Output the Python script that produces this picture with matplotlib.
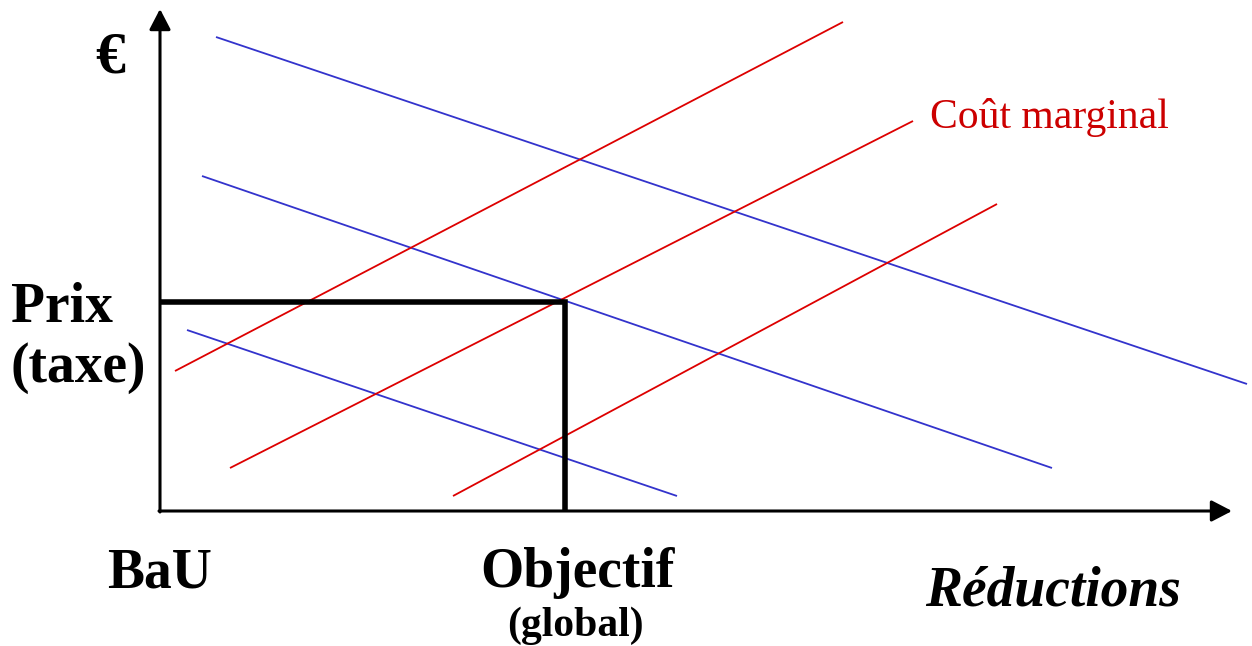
import matplotlib
matplotlib.use("Agg")
import matplotlib.pyplot as plt

plt.rcParams['font.family'] = ['Liberation Serif', 'DejaVu Serif']

# Demand-like (blue) lines: (x0, y0, x1, y1) in reduction / € units
blue_lines = [
    (0.56, 4.74, 10.87, 1.27),
    (0.42, 3.35, 8.92, 0.43),
    (0.27, 1.81, 5.17, 0.15),
]
# Marginal cost (red) lines
red_lines = [
    (0.15, 1.40, 6.83, 4.89),
    (0.70, 0.43, 7.53, 3.90),
    (2.93, 0.15, 8.37, 3.07),
]
objectif_x = 4.05
prix_y = 2.09
x_axis_end = 10.72
y_axis_end = 5.02

fig = plt.figure(figsize=(12.52, 6.46), dpi=100)
ax = fig.add_axes([0, 0, 1, 1])
ax.set_xlim(-1.60, 10.92)
ax.set_ylim(-1.35, 5.11)
ax.axis('off')

blue = '#3333CC'
red = '#DD0000'

for x0, y0, x1, y1 in blue_lines:
    ax.plot([x0, x1], [y0, y1], color=blue, lw=1.3, solid_capstyle='butt')
for x0, y0, x1, y1 in red_lines:
    ax.plot([x0, x1], [y0, y1], color=red, lw=1.3, solid_capstyle='butt')

# Price / objective lines
ax.plot([0, objectif_x, objectif_x], [prix_y, prix_y, 0], color='black', lw=4,
        solid_joinstyle='miter', solid_capstyle='butt')

# Axes with arrows
arrow_kw = dict(arrowstyle='-|>,head_length=1.25,head_width=0.65', color='black', lw=2.2,
                shrinkA=0, shrinkB=0, mutation_scale=10)
ax.annotate('', xy=(0, y_axis_end), xytext=(0, -0.01), arrowprops=arrow_kw)
ax.annotate('', xy=(x_axis_end, 0), xytext=(-0.01, 0), arrowprops=arrow_kw)

# Texts
ax.text(-0.50, 4.39, '€', fontsize=43, fontweight='bold', ha='center', va='baseline')
ax.text(-0.98, 1.89, 'Prix', fontsize=40, fontweight='bold', ha='center', va='baseline')
ax.text(-0.82, 1.29, '(taxe)', fontsize=40, fontweight='bold', ha='center', va='baseline')
ax.text(0.0, -0.76, 'BaU', fontsize=40, fontweight='bold', ha='center', va='baseline')
ax.text(4.17, -0.76, 'Objectif', fontsize=40, fontweight='bold', ha='center', va='baseline')
ax.text(4.15, -1.25, '(global)', fontsize=30, fontweight='bold', ha='center', va='baseline')
ax.text(8.93, -0.94, 'Réductions', fontsize=40, fontweight='bold', style='italic',
        ha='center', va='baseline')
ax.text(7.70, 3.83, 'Coût marginal', fontsize=30, color='#CC0000', ha='left', va='baseline')

fig.savefig('out.png', dpi=100)
